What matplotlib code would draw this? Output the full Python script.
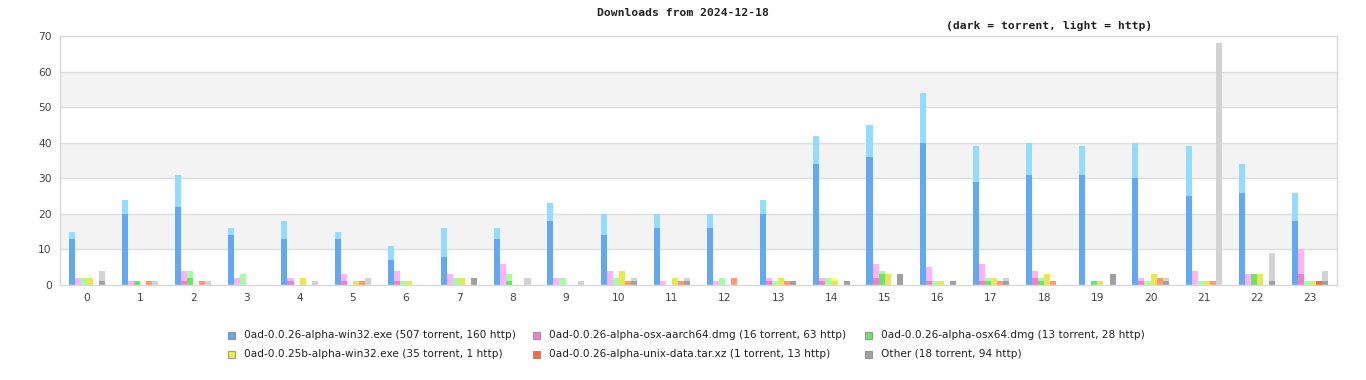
import matplotlib
matplotlib.use("Agg")
import matplotlib.pyplot as plt
from matplotlib.patches import Rectangle
import numpy as np

hours = list(range(24))

series_names = [
    "0ad-0.0.26-alpha-win32.exe (507 torrent, 160 http)",
    "0ad-0.0.26-alpha-osx-aarch64.dmg (16 torrent, 63 http)",
    "0ad-0.0.26-alpha-osx64.dmg (13 torrent, 28 http)",
    "0ad-0.0.25b-alpha-win32.exe (35 torrent, 1 http)",
    "0ad-0.0.26-alpha-unix-data.tar.xz (1 torrent, 13 http)",
    "Other (18 torrent, 94 http)",
]

win32_torrent = [13, 20, 22, 14, 13, 13, 7, 8, 13, 18, 14, 16, 16, 20, 34, 36, 40, 29, 31, 31, 30, 25, 26, 18]
win32_http    = [2, 4, 9, 2, 5, 2, 4, 8, 3, 5, 6, 4, 4, 4, 8, 9, 14, 10, 9, 8, 10, 14, 8, 8]
aarch64_torrent = [0, 0, 1, 0, 1, 1, 1, 0, 0, 0, 0, 0, 0, 1, 1, 2, 1, 1, 2, 0, 1, 0, 0, 3]
aarch64_http    = [2, 1, 3, 2, 1, 2, 3, 3, 6, 2, 4, 1, 1, 1, 1, 4, 4, 5, 2, 0, 1, 4, 3, 7]
osx64_torrent = [0, 1, 2, 0, 0, 0, 0, 0, 1, 0, 0, 0, 0, 0, 0, 3, 0, 1, 1, 1, 0, 0, 3, 0]
osx64_http    = [2, 0, 2, 3, 0, 0, 1, 2, 2, 2, 2, 0, 2, 1, 2, 1, 1, 1, 1, 0, 1, 1, 0, 1]
win32_25b_torrent = [2, 0, 0, 0, 2, 1, 1, 2, 0, 0, 4, 2, 0, 2, 1, 3, 1, 2, 3, 1, 3, 1, 3, 1]
win32_25b_http    = [0, 0, 0, 0, 0, 0, 0, 0, 0, 0, 0, 0, 0, 0, 1, 0, 0, 0, 0, 0, 0, 0, 0, 0]
unix_torrent = [0, 0, 0, 0, 0, 0, 0, 0, 0, 0, 0, 0, 0, 0, 0, 0, 0, 0, 0, 0, 0, 0, 0, 1]
unix_http    = [0, 1, 1, 0, 0, 1, 0, 0, 0, 0, 1, 1, 2, 1, 0, 0, 0, 1, 1, 0, 2, 1, 0, 0]
other_torrent = [1, 0, 0, 0, 0, 0, 0, 2, 0, 0, 1, 1, 0, 1, 1, 3, 1, 1, 0, 3, 1, 0, 1, 1]
other_http    = [3, 1, 1, 0, 1, 2, 0, 0, 2, 1, 1, 1, 0, 0, 0, 0, 0, 1, 0, 0, 1, 68, 8, 3]

torrent = [win32_torrent, aarch64_torrent, osx64_torrent, win32_25b_torrent, unix_torrent, other_torrent]
http = [win32_http, aarch64_http, osx64_http, win32_25b_http, unix_http, other_http]

dark_colors = ["#62a9f2", "#f080c8", "#6be36b", "#e8e855", "#ff6a3a", "#a0a0a0"]
light_colors = ["#93dbff", "#ffb3ff", "#a3ffa3", "#ffff80", "#ff9a70", "#d3d3d3"]

W, H = 1366, 380
fig = plt.figure(figsize=(W / 100, H / 100), dpi=100)
ax = fig.add_axes([60.3 / W, 1 - 285 / H, (1336.7 - 60.3) / W, (285 - 36.3) / H])

ax.set_xlim(-0.5, 23.5)
ax.set_ylim(0, 70)
for lo in (10, 30, 50):
    ax.axhspan(lo, lo + 10, color="#f3f3f3", zorder=0, lw=0)
for y in range(10, 70, 10):
    ax.axhline(y, color="#dddddd", lw=1, zorder=1)

bw = 0.114
x = np.array(hours, dtype=float)
for i in range(6):
    xs = x + (i - 2.5) * bw
    t = np.array(torrent[i])
    h = np.array(http[i])
    ax.bar(xs, t, width=bw, color=dark_colors[i], lw=0, zorder=2)
    ax.bar(xs, h, width=bw, bottom=t, color=light_colors[i], lw=0, zorder=2)

ax.set_xticks(hours)
ax.set_xticklabels([str(hh) for hh in hours])
ax.set_yticks(range(0, 71, 10))
ax.tick_params(length=0, labelsize=7.7, colors="#444444", pad=6)
for s in ax.spines.values():
    s.set_color("#d8d8d8")
    s.set_linewidth(1)

fig.text(683 / W, 1 - 13 / H, "Downloads from 2024-12-18", ha="center", va="center",
         family="DejaVu Sans Mono", fontweight="bold", fontsize=8.2, color="#222222")
fig.text(1152 / W, 1 - 26 / H, "(dark = torrent, light = http)", ha="right", va="center",
         family="DejaVu Sans Mono", fontweight="bold", fontsize=8.2, color="#222222")

legend_pos = [(228, 335), (533, 335), (865, 335), (228, 354), (533, 354), (865, 354)]
for i, (px, py) in enumerate(legend_pos):
    fig.patches.append(Rectangle((px / W, 1 - (py + 3.5) / H), 7 / W, 7 / H,
                                 transform=fig.transFigure, facecolor=dark_colors[i],
                                 edgecolor="#888888", lw=0.6))
    fig.text((px + 16) / W, 1 - py / H, series_names[i], ha="left", va="center",
             fontsize=7.55, color="#222222")

fig.savefig("out.png", dpi=100)
